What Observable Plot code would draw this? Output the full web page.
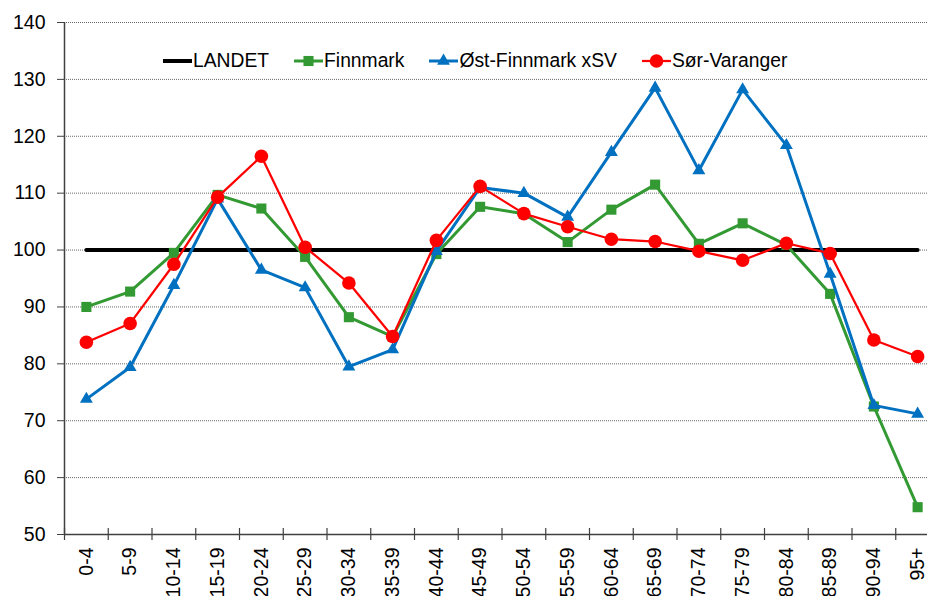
<!DOCTYPE html>
<html>
<head>
<meta charset="utf-8">
<script src="https://cdn.jsdelivr.net/npm/d3@7"></script>
<script src="https://cdn.jsdelivr.net/npm/@observablehq/plot@0.6"></script>
<style>
  html, body { margin: 0; padding: 0; background: #fff; }
  #wrap { position: relative; width: 927px; height: 596px; overflow: hidden; font-family: "Liberation Sans", Arial, sans-serif; }
  #legend { position: absolute; left: 163px; top: 49px; display: flex; align-items: center; height: 24px; font-size: 19.3px; color: #000; }
  .item { display: flex; align-items: center; margin-right: 25px; }
  .item svg { display: block; margin-right: 1px; }
</style>
</head>
<body>
<div id="wrap"><div id="legend"></div></div>
<script>
const ages = ["0-4","5-9","10-14","15-19","20-24","25-29","30-34","35-39","40-44","45-49","50-54","55-59","60-64","65-69","70-74","75-79","80-84","85-89","90-94","95+"];
const landet      = [100,100,100,100,100,100,100,100,100,100,100,100,100,100,100,100,100,100,100,100];
const finnmark    = [90.0,92.7,99.5,109.7,107.3,98.8,88.2,84.8,99.3,107.6,106.4,101.4,107.1,111.5,101.1,104.7,100.9,92.3,72.5,54.8];
const ostFinnmark = [73.8,79.4,93.8,109.0,96.5,93.4,79.5,82.5,99.8,111.0,110.0,105.8,117.2,128.5,114.0,128.2,118.4,95.8,72.7,71.2];
const sorVaranger = [83.8,87.1,97.5,109.3,116.5,100.5,94.2,84.8,101.7,111.2,106.4,104.1,101.9,101.5,99.8,98.2,101.2,99.4,84.2,81.3];
const yTicks = [50,60,70,80,90,100,110,120,130,140];

const series = [
  {name: "LANDET", values: landet, color: "#000000", width: 4, symbol: null, r: 0},
  {name: "Finnmark", values: finnmark, color: "#339933", width: 3, symbol: "square", r: 5.7},
  {name: "Øst-Finnmark xSV", values: ostFinnmark, color: "#0070C0", width: 3, symbol: "triangle", r: 4.8},
  {name: "Sør-Varanger", values: sorVaranger, color: "#FF0000", width: 2.25, symbol: "circle", r: 6.8}
];

const idx = ages.map((_, i) => i);
const boundaries = ages.map((_, i) => i - 0.5);
const font = "Liberation Sans, Arial, sans-serif";

const marks = [
  Plot.gridY(yTicks.filter(t => t > 50), {stroke: "#666", strokeOpacity: 1, strokeWidth: 1, strokeDasharray: "1,1"}),
  Plot.ruleY([50], {stroke: "#404040", strokeWidth: 1.5}),
  Plot.ruleX([-0.5], {stroke: "#404040", strokeWidth: 1.5}),
  Plot.ruleX(boundaries, {x: d => d, y1: 50, y2: 50, insetTop: -6, insetBottom: -6, stroke: "#404040", strokeWidth: 1.2}),
  Plot.axisY({ticks: yTicks, tickSize: 7, tickPadding: 12, fontSize: 19.5, stroke: "#404040", color: "#000", label: null}),
  Plot.axisX({ticks: idx, tickFormat: i => ages[i], tickSize: 0, tickPadding: 13, tickRotate: -90, fontSize: 19.5, color: "#000", label: null})
];

for (const s of series) {
  const data = s.values.map((v, i) => ({i, v}));
  marks.push(Plot.line(data, {x: "i", y: "v", stroke: s.color, strokeWidth: s.width}));
  if (s.symbol) marks.push(Plot.dot(data, {x: "i", y: "v", fill: s.color, stroke: "none", symbol: s.symbol, r: s.r}));
}

const chart = Plot.plot({
  width: 927,
  height: 596,
  marginLeft: 64,
  marginRight: 0,
  marginTop: 22,
  marginBottom: 62,
  style: {fontFamily: font, fontSize: "19.5px", background: "#fff", overflow: "hidden"},
  x: {type: "linear", domain: [-0.5, 19.5], range: [64, 939], axis: null, label: null},
  y: {domain: [50, 140], axis: null, label: null},
  marks
});
document.getElementById("wrap").prepend(chart);

// legend
const legend = d3.select("#legend");
for (const s of series) {
  const item = legend.append("div").attr("class", "item");
  const svg = item.append("svg").attr("width", 29).attr("height", 20);
  svg.append("line").attr("x1", 0).attr("x2", 29).attr("y1", 10).attr("y2", 10)
    .attr("stroke", s.color).attr("stroke-width", s.width);
  if (s.symbol) {
    const sym = {square: d3.symbolSquare, triangle: d3.symbolTriangle, circle: d3.symbolCircle}[s.symbol];
    svg.append("path").attr("transform", "translate(14.5,10)")
      .attr("d", d3.symbol(sym, Math.PI * s.r * s.r)()).attr("fill", s.color);
  }
  item.append("span").text(s.name);
}
</script>
</body>
</html>
